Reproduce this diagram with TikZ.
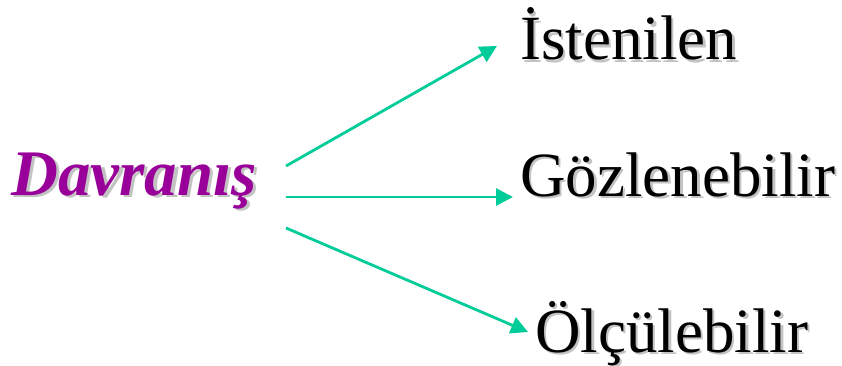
\documentclass[tikz,border=0pt]{standalone}
\usepackage{fontspec}
\setmainfont{Liberation Serif}
\usetikzlibrary{arrows.meta}
\definecolor{dpurple}{RGB}{153,0,153}
\definecolor{arrgreen}{RGB}{0,204,153}
\definecolor{shadowgray}{RGB}{195,195,195}
\begin{document}
\begin{tikzpicture}[x=1pt,y=-1pt,
  lbl/.style={anchor=base west,inner sep=0pt,font=\fontsize{63}{70}\selectfont},
  dlbl/.style={anchor=base west,inner sep=0pt,font=\fontsize{65}{72}\selectfont\bfseries\itshape},
  shd/.style={text=shadowgray},
  conn/.style={draw=arrgreen,line width=2.8pt,-{Triangle[length=17pt,width=17pt]}}]
\useasboundingbox (0,0) rectangle (842,366);
% shadows
\node[dlbl,shd] (Dsh) at (14.5,197.5) {Davranış};
\node[lbl,shd] (Ish) at (522.5,62.5) {İstenilen};
\node[lbl,shd] (Gsh) at (522.5,198.5) {Gözlenebilir};
\node[lbl,shd] (Osh) at (537.5,354.5) {Ölçülebilir};
% texts
\node[dlbl,text=dpurple] (D) at (11,195) {Davranış};
\node[lbl] (I) at (520,60) {İstenilen};
\node[lbl] (G) at (520,196) {Gözlenebilir};
\node[lbl] (O) at (535,352) {Ölçülebilir};
% connector ends
\coordinate (s1) at (286,166);
\coordinate (s2) at (286,197);
\coordinate (s3) at (286,228);
\coordinate (t1) at (497,46);
\coordinate (t2) at (513,197);
\coordinate (t3) at (528,332);
\draw[conn] (s1) -- (t1);
\draw[conn] (s2) -- (t2);
\draw[conn] (s3) -- (t3);
\end{tikzpicture}
\end{document}
